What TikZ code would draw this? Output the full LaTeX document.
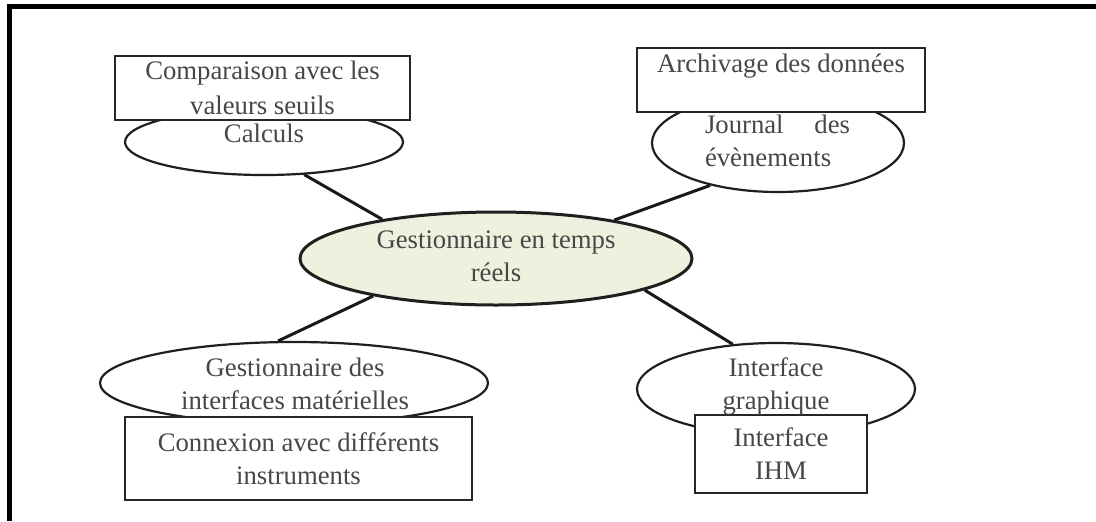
\documentclass[tikz,border=0pt]{standalone}
\usepackage{fontspec}
\setmainfont{Liberation Serif}
\usetikzlibrary{shapes.geometric}
\def\pu{0.025cm}
\def\brk{\\[1.5pt]}
\definecolor{hubfill}{HTML}{EDF1DE}

\begin{document}
\begin{tikzpicture}[x=0.025cm, y=-0.025cm,
  txt/.style={font=\fontsize{19}{22}\selectfont, text=black!72, align=center, inner sep=0pt},
  oval/.style={ellipse, draw=black!88, line width=2.2*\pu, fill=white, inner sep=0pt},
  hub/.style={oval, line width=3*\pu, fill=hubfill},
  card/.style={rectangle, draw=black!85, line width=2.6*\pu, fill=white, inner sep=0pt,
               font=\fontsize{19}{22}\selectfont, text=black!72, align=center},
  link/.style={draw=black!90, line width=3*\pu}]

\useasboundingbox (0,0) rectangle (1096,521);

% outer frame (top and left edges)
\draw[line width=5*\pu, line join=miter] (9.5,521) -- (9.5,6.5) -- (1096,6.5);

% central manager
\node[hub, minimum width=392*\pu, minimum height=93*\pu] (ctr) at (496,258.5) {};
\node[txt] (ctrt) at (496,256) {Gestionnaire en temps\brk réels};

% satellite ellipses
\node[oval, minimum width=278*\pu, minimum height=66*\pu] (calc) at (264,142) {};
\node[oval, minimum width=252*\pu, minimum height=98*\pu] (journ) at (778,143) {};
\node[oval, minimum width=388*\pu, minimum height=82*\pu] (ghw) at (294,383) {};
\node[oval, minimum width=278*\pu, minimum height=92*\pu] (gui) at (776,389) {};

% attached boxes
\node[card, minimum width=295*\pu, minimum height=64*\pu] (cmp) at (262.5,88)
  {Comparaison avec les\\[3pt]valeurs seuils};
\node[card, minimum width=288*\pu, minimum height=64*\pu] (arch) at (781,80)
  {Archivage des données\brk\mbox{}};
\node[card, minimum width=347*\pu, minimum height=83*\pu] (conn) at (298.5,458.5)
  {Connexion avec différents\brk instruments};
\node[card, minimum width=172*\pu, minimum height=78*\pu] (ihm) at (781,454)
  {Interface\brk IHM};

% ellipse labels
\node[txt] (calct) at (264,133) {Calculs};
\node[txt, text width=145*\pu, align=left] (journt) at (777.5,141)
  {Journal\hfill des\brk évènements};
\node[txt] (ghwt) at (295,384) {Gestionnaire des\brk interfaces matérielles};
\node[txt] (guit) at (776,386) {Interface\brk graphique};

% connectors from the central manager
\draw[link] (ctr.161.6) -- (calc.-39);
\draw[link] (ctr.18.9) -- (journ.212);
\draw[link] (ctr.197.2) -- (ghw.111.8);
\draw[link] (ctr.-12.9) -- (gui.134.4);
\end{tikzpicture}
\end{document}
